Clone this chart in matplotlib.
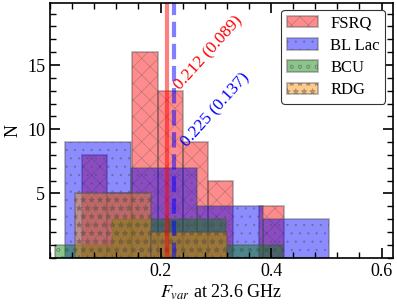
import numpy as np
import matplotlib
matplotlib.use("Agg")
import matplotlib.pyplot as plt
from matplotlib.ticker import MultipleLocator, FixedLocator
from matplotlib.colors import to_rgba

plt.rcParams['font.family'] = ['Liberation Serif', 'DejaVu Serif']
plt.rcParams['mathtext.fontset'] = 'stix'
plt.rcParams['hatch.linewidth'] = 0.45

# Histogram bin edges and counts
fsrq_edges = [0.057, 0.103, 0.149, 0.195, 0.241, 0.286, 0.332, 0.378, 0.424]
fsrq_counts = [8, 5, 16, 13, 9, 6, 0, 4]
bll_edges = [0.027, 0.147, 0.266, 0.385, 0.505]
bll_counts = [9, 7, 4, 3]
bcu_edges = [0.009, 0.112, 0.215, 0.318, 0.422]
bcu_counts = [1, 3, 3, 1]
rdg_edges = [0.045, 0.183, 0.320]
rdg_counts = [5, 2]

labels = ['FSRQ', 'BL Lac', 'BCU', 'RDG']
colors = ['red', 'blue', 'green', 'darkorange']
hatches = ['xx', '..', 'oo', '**']

fsrq_mean, fsrq_std = 0.212, 0.089
bll_mean, bll_std = 0.225, 0.137

fig = plt.figure(figsize=(3.97, 3.06), dpi=100)
ax = fig.add_axes([0.126, 0.158, 0.863, 0.831])

series = [(fsrq_edges, fsrq_counts), (bll_edges, bll_counts),
          (bcu_edges, bcu_counts), (rdg_edges, rdg_counts)]
for (edges, counts), lab, col, h in zip(series, labels, colors, hatches):
    e = np.array(edges)
    centers = 0.5 * (e[:-1] + e[1:])
    ax.hist(centers, bins=e, weights=counts, color=to_rgba(col, 0.45),
            edgecolor=(0.3, 0.3, 0.3, 0.4), linewidth=1.3, hatch=h, label=lab)

ax.axvline(fsrq_mean, color='red', lw=3, alpha=0.5)
ax.axvline(bll_mean, color='blue', lw=3, alpha=0.5, ls='--')

ax.text(fsrq_mean + 0.024, 13.0, f'{fsrq_mean:.3f} ({fsrq_std:.3f})', color='red',
        rotation=48, rotation_mode='anchor', ha='left', va='baseline', fontsize=12.5)
ax.text(bll_mean + 0.023, 8.6, f'{bll_mean:.3f} ({bll_std:.3f})', color='blue',
        rotation=48, rotation_mode='anchor', ha='left', va='baseline', fontsize=12.5)

ax.set_xlim(0, 0.62)
ax.set_ylim(0, 19.8)
ax.xaxis.set_major_locator(FixedLocator([0.2, 0.4, 0.6]))
ax.xaxis.set_minor_locator(MultipleLocator(0.04))
ax.yaxis.set_major_locator(FixedLocator([5, 10, 15]))
ax.yaxis.set_minor_locator(MultipleLocator(1))
ax.tick_params(which='both', direction='in', top=True, right=True, labelsize=13)
ax.tick_params(which='major', length=7, width=1.2)
ax.tick_params(which='minor', length=4, width=1)
for s in ax.spines.values():
    s.set_linewidth(1.2)

ax.set_xlabel(r'$F_{var}$ at 23.6 GHz', fontsize=13, labelpad=2)
ax.set_ylabel('N', fontsize=13, labelpad=4)

leg = ax.legend(loc='upper right', fontsize=12, frameon=True, fancybox=True,
                edgecolor='0.2', framealpha=1, borderaxespad=0.0,
                labelspacing=0.38, handlelength=1.9, handletextpad=0.7,
                borderpad=0.32, bbox_to_anchor=(0.9775, 0.9737))
leg.get_frame().set_linewidth(0.8)

fig.savefig('out.png', dpi=100)
